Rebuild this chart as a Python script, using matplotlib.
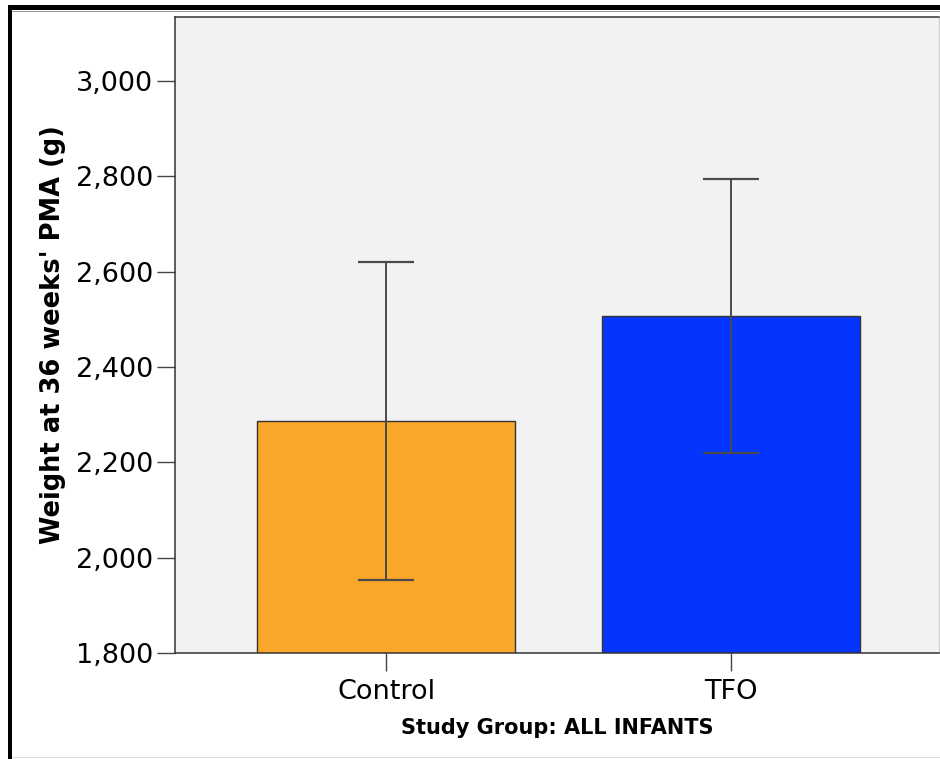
import numpy as np
import matplotlib.pyplot as plt
from matplotlib.patches import Rectangle
from matplotlib.ticker import FuncFormatter

# mean weight at 36 weeks' PMA with error bar half-widths
groups = ['Control', 'TFO']
means = [2287, 2507]
errs = [334, 287]
bar_colors = ['#faa72a', '#0535fd']
yticks = [1800, 2000, 2200, 2400, 2600, 2800, 3000]

fig = plt.figure(figsize=(9.4, 7.59), dpi=100)
fig.patch.set_facecolor('white')

# window frame around the chart
fig.patches.append(Rectangle((8 / 940, 0), 4 / 940, 754 / 759, transform=fig.transFigure,
                             facecolor='black', edgecolor='none', zorder=0))
fig.patches.append(Rectangle((8 / 940, 749 / 759), 932 / 940, 5 / 759, transform=fig.transFigure,
                             facecolor='black', edgecolor='none', zorder=0))
fig.patches.append(Rectangle((12 / 940, 747 / 759), 928 / 940, 1.2 / 759, transform=fig.transFigure,
                             facecolor='#9a9a9a', edgecolor='none', zorder=0))
fig.patches.append(Rectangle((12 / 940, 1 / 759), 928 / 940, 1 / 759, transform=fig.transFigure,
                             facecolor='#dddddd', edgecolor='none', zorder=0))

ax = fig.add_axes([175 / 940, 106 / 759, 764 / 940, 636 / 759])
ax.set_facecolor('#f2f2f2')

x = np.arange(len(groups))
ax.bar(x, means, width=0.75, color=bar_colors, edgecolor='#333333', linewidth=1.0, zorder=2)
ax.errorbar(x, means, yerr=errs, fmt='none', ecolor='#4a4a4a', elinewidth=1.4,
            capsize=20, capthick=1.6, zorder=3)

ax.set_xlim(-0.612, 1.603)
ax.set_ylim(1800, 3134)
ax.set_yticks(yticks)
ax.yaxis.set_major_formatter(FuncFormatter(lambda v, p: f'{int(v):,}'))
ax.set_xticks(x)
ax.set_xticklabels(groups)

ax.tick_params(axis='both', length=13, width=1.0, color='#444444', labelsize=19.5,
               pad=3, labelcolor='black')
ax.tick_params(axis='x', pad=6)
for side in ['left', 'bottom', 'top']:
    ax.spines[side].set_color('#333333')
    ax.spines[side].set_linewidth(1.1)
ax.spines['right'].set_color('#cccccc')

ax.set_ylabel("Weight at 36 weeks' PMA (g)", fontsize=18.5, fontweight='bold', labelpad=7)
ax.set_xlabel('Study Group: ALL INFANTS', fontsize=15, fontweight='bold', labelpad=9)

fig.savefig('out.png', dpi=100)
